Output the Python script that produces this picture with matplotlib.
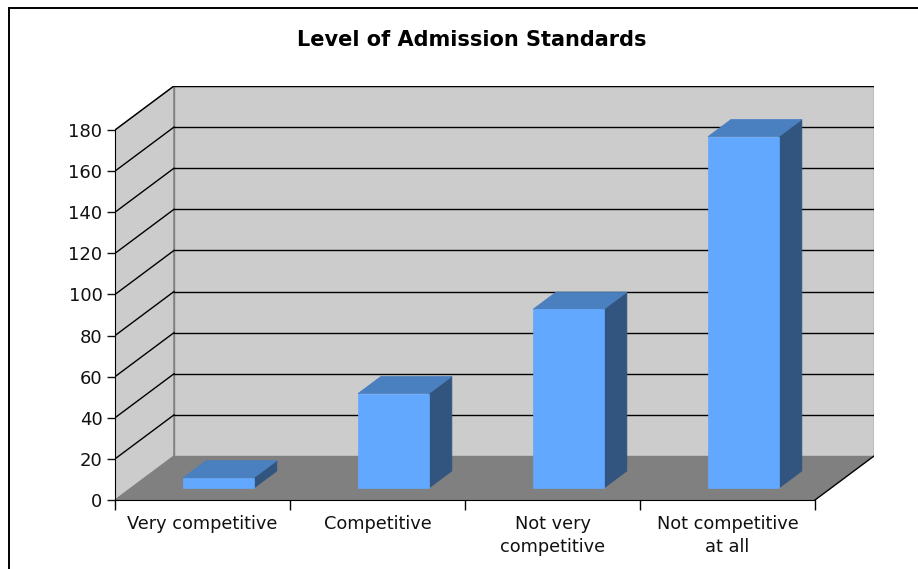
import matplotlib
matplotlib.use("Agg")
import matplotlib.pyplot as plt
from matplotlib.patches import Polygon, Rectangle

categories = ["Very competitive", "Competitive", "Not very\ncompetitive", "Not competitive\nat all"]
values = [5, 46, 87, 171]
y_ticks = [0, 20, 40, 60, 80, 100, 120, 140, 160, 180]

title = "Level of Admission Standards"

# oblique depth offset of the back wall, in data units
depth_x = 0.337
depth_y = 21.4
# bar placement inside the depth, as fraction of depth
bar_z0, bar_z1 = 0.27, 0.66
bar_width = 0.405

wall_color = "#cccccc"
floor_color = "#808080"
edge_gray = "#808080"
bar_front = "#62a8ff"
bar_top = "#4a7fc0"
bar_side = "#31557f"

W, H = 918, 569
fig = plt.figure(figsize=(W / 100, H / 100), dpi=100)
fig.patch.set_facecolor("white")

# outer chart frame
fig.add_artist(Rectangle((9 / W, -0.1), 1.2, (H - 8) / H + 0.1, transform=fig.transFigure,
                         fill=False, edgecolor="black", linewidth=1.4))

n = len(categories)
ymax = y_ticks[-1]
left, bottom = 115 / W, (H - 500) / H
ax = fig.add_axes([left, bottom, 759 / W, 414 / H])
ax.set_xlim(0, n + depth_x)
ax.set_ylim(0, ymax + depth_y)
ax.set_facecolor("none")


def shift(x, y, f):
    return (x + depth_x * f, y + depth_y * f)


# floor
ax.add_patch(Polygon([(0, 0), (n, 0), shift(n, 0, 1), shift(0, 0, 1)],
                     closed=True, facecolor=floor_color, edgecolor="none", zorder=1))
ax.plot([n, n + depth_x], [0, depth_y], color="black", linewidth=1.0, zorder=2)

# left side wall
ax.add_patch(Polygon([(0, 0), shift(0, 0, 1), shift(0, ymax, 1), (0, ymax)],
                     closed=True, facecolor=wall_color, edgecolor=edge_gray, linewidth=1.0, zorder=1))
# back wall
ax.add_patch(Polygon([shift(0, 0, 1), shift(n, 0, 1), shift(n, ymax, 1), shift(0, ymax, 1)],
                     closed=True, facecolor=wall_color, edgecolor=edge_gray, linewidth=1.0, zorder=1))

# gridlines on side and back walls
for v in y_ticks[1:]:
    x0, y0 = shift(0, v, 1)
    x1, y1 = shift(n, v, 1)
    ax.plot([0, x0], [v, y0], color="black", linewidth=1.0, zorder=2)
    ax.plot([x0, x1], [y0, y1], color="black", linewidth=1.0, zorder=2)

# 3D bars
for i, v in enumerate(values):
    xl = i + 0.5 - bar_width / 2
    xr = i + 0.5 + bar_width / 2
    fl = shift(xl, 0, bar_z0)
    fr = shift(xr, 0, bar_z0)
    tl = shift(xl, v, bar_z0)
    tr = shift(xr, v, bar_z0)
    btl = shift(xl, v, bar_z1)
    btr = shift(xr, v, bar_z1)
    bbr = shift(xr, 0, bar_z1)
    ax.add_patch(Polygon([fr, bbr, btr, tr], closed=True, facecolor=bar_side,
                         edgecolor=bar_side, linewidth=0.5, zorder=3))
    ax.add_patch(Polygon([tl, tr, btr, btl], closed=True, facecolor=bar_top,
                         edgecolor=bar_top, linewidth=0.5, zorder=3))
    ax.add_patch(Polygon([fl, fr, tr, tl], closed=True, facecolor=bar_front,
                         edgecolor=bar_front, linewidth=0.5, zorder=4))

# axes
for s in ["top", "right"]:
    ax.spines[s].set_visible(False)
ax.spines["left"].set_bounds(0, ymax)
ax.spines["bottom"].set_bounds(0, n)
ax.spines["left"].set_zorder(5)
ax.spines["bottom"].set_zorder(5)
ax.set_yticks(y_ticks)
ax.set_yticklabels([str(t) for t in y_ticks])
ax.set_xticks(range(n + 1))
ax.set_xticklabels([""] * (n + 1))
ax.set_xticks([i + 0.5 for i in range(n)], minor=True)
ax.set_xticklabels(categories, minor=True)
ax.tick_params(axis="y", direction="out", length=6, width=1.0, labelsize=13, pad=3, colors="#111111")
ax.tick_params(axis="x", which="major", direction="out", length=7, width=1.0)
ax.tick_params(axis="x", which="minor", length=0, labelsize=12.8, pad=11, colors="#111111")
for lbl in ax.get_xticklabels(minor=True):
    lbl.set_linespacing(1.35)

fig.text(472 / W, 1 - 40 / H, title, ha="center", va="center", fontsize=15, fontweight="bold")

fig.savefig("out.png", dpi=100)
